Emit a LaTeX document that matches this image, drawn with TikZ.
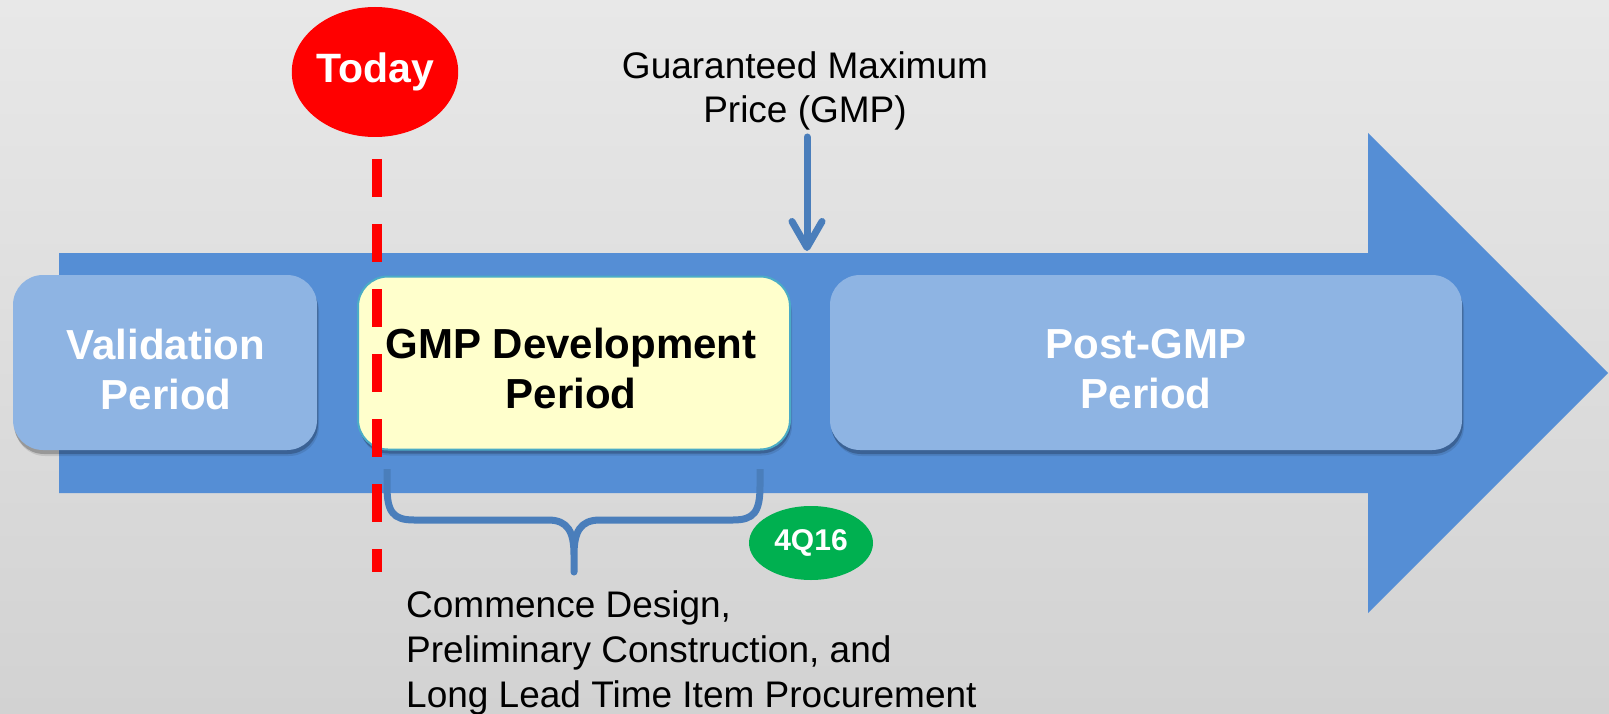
\documentclass[tikz,border=0pt]{standalone}
\usepackage{fontspec}
\setmainfont{Liberation Sans}
\usetikzlibrary{arrows.meta,shapes.geometric,shadows}
\definecolor{bgtop}{HTML}{E8E8E8}
\definecolor{bgbot}{HTML}{D2D2D2}
\definecolor{arrowblue}{HTML}{558ED5}
\definecolor{boxblue}{HTML}{8EB4E3}
\definecolor{gmpfill}{HTML}{FFFFCC}
\definecolor{gmpborder}{HTML}{4BACC6}
\definecolor{darkblue}{HTML}{4A7EBB}
\definecolor{todayred}{HTML}{FF0000}
\definecolor{qgreen}{HTML}{00B050}
\begin{document}
\begin{tikzpicture}[x=1pt,y=-1pt,
  periodbox/.style={rounded corners=30pt, minimum height=175pt, inner sep=0pt,
    drop shadow={shadow xshift=1pt, shadow yshift=-4pt, opacity=.22, fill=black},
    drop shadow={shadow xshift=2pt, shadow yshift=-6pt, opacity=.10, fill=black}},
  boldtxt/.style={align=center, inner sep=0pt, font=\fontsize{42}{50}\selectfont\bfseries},
  regtxt/.style={inner sep=0pt, font=\fontsize{37}{45}\selectfont},
  badge/.style={ellipse, inner sep=0pt, text=white, font=\bfseries},
  todayline/.style={draw=todayred, line width=9.5pt, dash pattern=on 38pt off 27pt},
  bluestroke/.style={draw=darkblue, line width=7pt, line cap=round, line join=round},
]
\useasboundingbox (0,0) rectangle (1609,714);
\shade[top color=bgtop, bottom color=bgbot] (0,0) rectangle (1609,714);

% big arrow
\fill[arrowblue] (59,253) -- (1368,253) -- (1368,133) -- (1608,373) -- (1368,613) -- (1368,493) -- (59,493) -- cycle;

% period boxes
\node[periodbox, fill=boxblue, minimum width=304pt] (val) at (165,362.5) {};
\node[periodbox, fill=gmpfill, draw=gmpborder, line width=2pt, minimum width=432pt, minimum height=173pt] (gmp) at (574,363) {};
\node[periodbox, fill=boxblue, minimum width=632pt] (post) at (1146,362.5) {};

\node[boldtxt, text=white] (valt) at (166,369) {Validation\\Period};
\node[boldtxt, text=black] (gmpt) at (571,368) {GMP Development\\Period};
\node[boldtxt, text=white] (postt) at (1146,369) {Post-GMP\\Period};

% GMP label and arrow
\node[regtxt, align=center, font=\fontsize{37}{44}\selectfont] (gmplabel) at (805,90.5) {Guaranteed Maximum\\Price (GMP)};
\coordinate (gmparrowtop) at (807,137);
\coordinate (gmparrowtip) at (807,251);
\draw[bluestroke, -{Straight Barb[length=26pt, width=30pt, round]}] (gmparrowtop) -- (gmparrowtip);

% brace
\coordinate (bl) at (387,469);
\coordinate (bm) at (574,572);
\coordinate (br) at (760,469);
\draw[bluestroke, line cap=butt] (bl) -- (387,486) .. controls (387,512) and (393,520) .. (414,520) -- (548,520)
  .. controls (568,520) and (574,532) .. (574,555) -- (bm) -- (574,555)
  .. controls (574,532) and (580,520) .. (600,520) -- (733,520)
  .. controls (754,520) and (760,512) .. (760,486) -- (br);

% 4Q16 badge
\node[badge, fill=qgreen, minimum width=124pt, minimum height=74pt, font=\fontsize{30}{36}\selectfont\bfseries] (q) at (811,543) {4Q16};

% commence text
\node[regtxt, align=left, anchor=north west] (commence) at (406,590) {Commence Design,\\Preliminary Construction, and\\Long Lead Time Item Procurement};

% Today
\node[badge, fill=todayred, minimum width=164pt, minimum height=130pt, font=\fontsize{41}{48}\selectfont\bfseries] (today) at (375,72) {Today};
\coordinate (dtop) at (377,159);
\coordinate (dbot) at (377,572);
\draw[todayline] (dtop) -- (dbot);
\end{tikzpicture}
\end{document}
